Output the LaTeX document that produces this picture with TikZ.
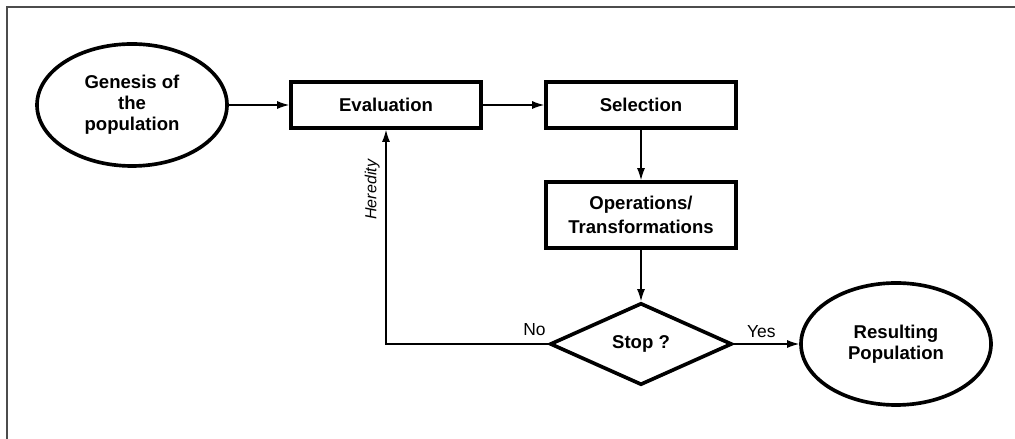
\documentclass[tikz,border=0pt]{standalone}
\usepackage{fontspec}
\setmainfont{Liberation Sans}
\usetikzlibrary{shapes.geometric, arrows.meta}

\tikzset{
  block/.style={draw, rectangle, line width=2.6pt, minimum width=4.75cm, minimum height=1.15cm,
    align=center, font=\fontsize{13.2}{17.5}\selectfont\bfseries},
  terminal/.style={draw, ellipse, line width=2.6pt, minimum width=4.75cm, minimum height=3.05cm,
    align=center, inner sep=0pt, font=\fontsize{13.2}{15}\selectfont\bfseries},
  decision/.style={draw, diamond, line width=2.6pt, minimum width=4.55cm, minimum height=2.05cm,
    inner sep=0pt, font=\fontsize{13.2}{15}\selectfont\bfseries},
  flow/.style={-{Latex[length=3mm,width=2mm]}, line width=0.9pt},
  answer/.style={font=\fontsize{12.4}{14}\selectfont},
}

\begin{document}
\begin{tikzpicture}

\useasboundingbox (0,0) rectangle (25.375,10.975);

%frame along the top and left edges
\draw[gray!60!black, line width=1.3pt] (0.175,0) -- (0.175,10.8) -- (25.375,10.8);

%the steps of the loop
\node[terminal] (genesis) at (3.3,8.35) {Genesis of\\the\\population};
\node[block] (evaluation) at (9.65,8.35) {Evaluation};
\node[block] (selection) at (16.025,8.35) {Selection};
\node[block, minimum height=1.65cm] (operations) at (16.025,5.6) {Operations/\\Transformations};
\node[decision] (stop) at (16.025,2.375) {Stop ?};
\node[terminal] (result) at (22.4,2.375) {Resulting\\Population};

\draw[flow] (genesis) -- (evaluation);
\draw[flow] (evaluation) -- (selection);
\draw[flow] (selection) -- (operations);
\draw[flow] (operations) -- (stop);
\draw[flow] (stop) -- node[answer, pos=0.42, above, yshift=1pt] {Yes} (result);

%back to the evaluation
\draw[flow] (stop.west) node[answer, above left, yshift=2pt, xshift=2pt] {No}
  -| node[pos=0.86, rotate=90, anchor=south, inner sep=4pt, font=\fontsize{11.4}{13}\selectfont\itshape] {Heredity}
  (evaluation.south);

\end{tikzpicture}
\end{document}
